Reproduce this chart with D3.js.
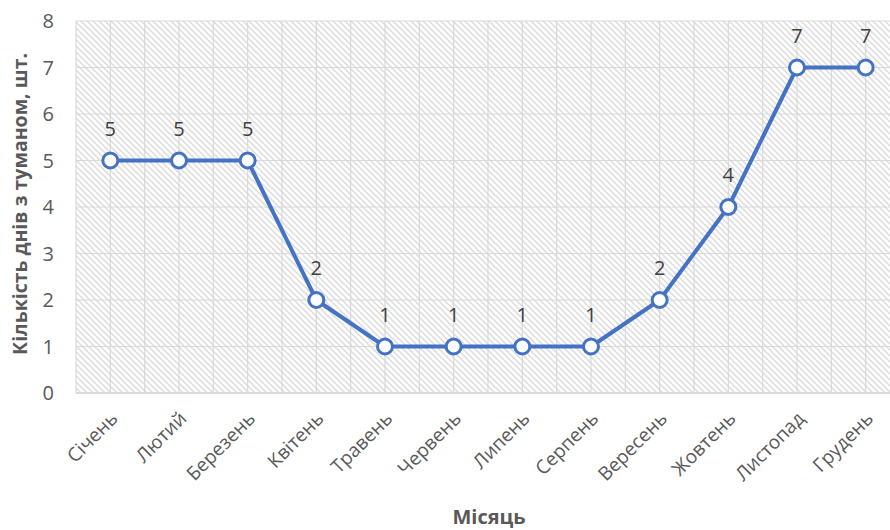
<!DOCTYPE html>
<html><head><meta charset="utf-8">
<script src="https://cdn.jsdelivr.net/npm/d3@7"></script>
<style>body{margin:0;background:#fff}svg{display:block}</style>
</head><body>
<svg id="c" width="890" height="530"></svg>
<script>
const months = ["Січень","Лютий","Березень","Квітень","Травень","Червень","Липень","Серпень","Вересень","Жовтень","Листопад","Грудень"];
const fogDays = [5,5,5,2,1,1,1,1,2,4,7,7];
const yTicks = [0,1,2,3,4,5,6,7,8];
const yTitle = "Кількість днів з туманом, шт.";
const xTitle = "Місяць";

const svg = d3.select("#c");
const font = "'Open Sans', sans-serif";
const L = 76, R = 900, T = 21, B = 393;
const x = d3.scaleBand().domain(months).range([L, R]).paddingInner(0).paddingOuter(0);
const y = d3.scaleLinear().domain([0, 8]).range([B, T]);

const defs = svg.append("defs");
const pat = defs.append("pattern").attr("id","hatch").attr("patternUnits","userSpaceOnUse")
  .attr("width",6).attr("height",6);
pat.append("rect").attr("width",6).attr("height",6).attr("fill","#fff");
pat.append("path").attr("d","M-1,-1 L7,7 M-4,2 L1,7 M2,-4 L7,1").attr("stroke","#dcdcdc").attr("stroke-width",1.5);

svg.append("rect").attr("x",L).attr("y",T).attr("width",R-L).attr("height",B-T).attr("fill","url(#hatch)");

// gridlines
const g = svg.append("g");
g.selectAll(".hg").data(yTicks.filter(d=>d>0)).join("line")
  .attr("x1",L).attr("x2",R).attr("y1",d=>y(d)).attr("y2",d=>y(d))
  .attr("stroke","#d9d9d9").attr("stroke-width",1.2);
const vpos = [];
months.forEach(m => { vpos.push(x(m)); vpos.push(x(m) + x.bandwidth()/2); });
vpos.push(R);
g.selectAll(".vg").data(vpos).join("line")
  .attr("x1",d=>d).attr("x2",d=>d).attr("y1",T).attr("y2",B)
  .attr("stroke","#d9d9d9").attr("stroke-width",1.2);
// x axis line
svg.append("line").attr("x1",L).attr("x2",R).attr("y1",B).attr("y2",B)
  .attr("stroke","#d9d9d9").attr("stroke-width",2);

// y tick labels
svg.selectAll(".yt").data(yTicks).join("text")
  .attr("x",54).attr("y",d=>y(d)).attr("dy","0.35em").attr("text-anchor","end")
  .attr("font-family",font).attr("font-size",20).attr("fill","#595959").text(d=>d);

// x tick labels
const cx = m => x(m) + x.bandwidth()/2;
svg.selectAll(".xt").data(months).join("text")
  .attr("transform",m=>`translate(${cx(m)+4},${B+22}) rotate(-45)`)
  .attr("text-anchor","end").attr("dy","0.35em")
  .attr("font-family",font).attr("font-size",19).attr("fill","#595959").text(m=>m);

// line
const line = d3.line().x((d,i)=>cx(months[i])).y(d=>y(d));
svg.append("path").datum(fogDays).attr("d",line).attr("fill","none")
  .attr("stroke","#4472C4").attr("stroke-width",4).attr("stroke-linejoin","round");
svg.selectAll(".pt").data(fogDays).join("circle")
  .attr("cx",(d,i)=>cx(months[i])).attr("cy",d=>y(d)).attr("r",7.5)
  .attr("fill","#fff").attr("stroke","#4472C4").attr("stroke-width",3);

// data labels
svg.selectAll(".dl").data(fogDays).join("text")
  .attr("x",(d,i)=>cx(months[i])).attr("y",d=>y(d)-32).attr("dy","0.35em")
  .attr("text-anchor","middle").attr("font-family",font).attr("font-size",20)
  .attr("fill","#404040").text(d=>d);

// titles
svg.append("text").attr("transform",`translate(27,204) rotate(-90)`)
  .attr("text-anchor","middle").attr("font-family",font).attr("font-size",19.5)
  .attr("font-weight","bold").attr("fill","#595959").text(yTitle);
svg.append("text").attr("x",489).attr("y",524)
  .attr("text-anchor","middle").attr("font-family",font).attr("font-size",20)
  .attr("font-weight","bold").attr("fill","#595959").text(xTitle);
</script>
</body></html>
